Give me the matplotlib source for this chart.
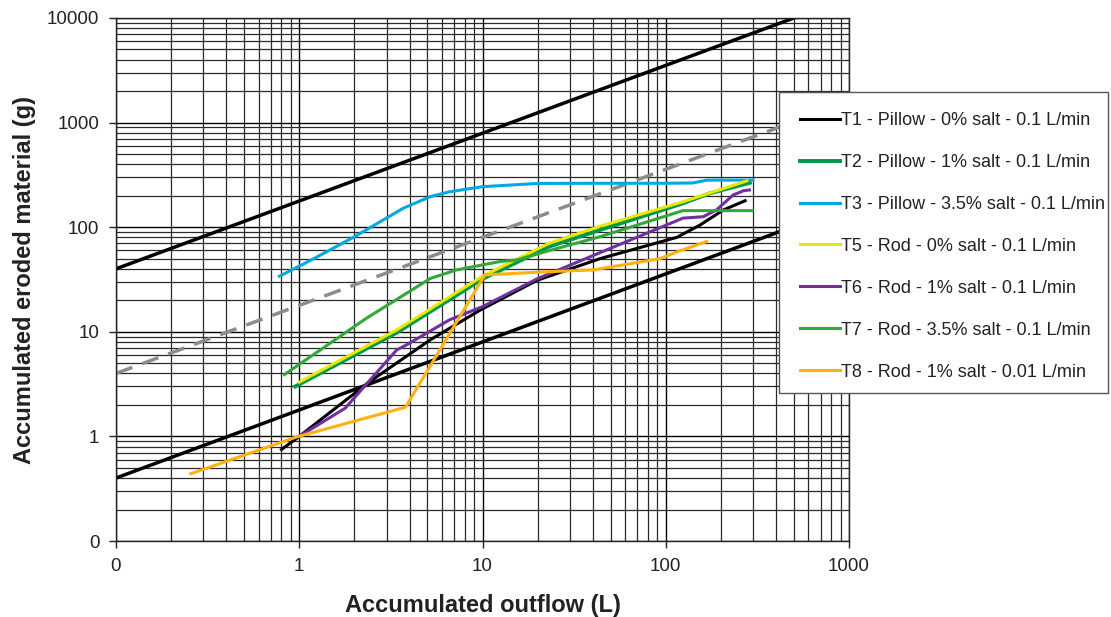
import matplotlib
matplotlib.use("Agg")
import matplotlib.pyplot as plt
from matplotlib.patches import Rectangle
from matplotlib.ticker import FixedLocator, FixedFormatter, LogLocator

plt.rcParams["font.family"] = ["Liberation Sans", "DejaVu Sans"]

# reference power-law lines (y ~ x^0.65)
upper_x = [0.1, 500]
upper_y = [40, 10000]
dashed_x = [0.1, 1000]
dashed_y = [4, 1600]
lower_x = [0.1, 1000]
lower_y = [0.4, 160]

# test series
t1_x = [0.80, 0.97, 2.4, 5.2, 9.7, 19.8, 43.7, 115, 154, 206, 271]
t1_y = [0.75, 0.96, 3.3, 8.4, 16.1, 31, 50, 80, 105, 146, 179]

t2_x = [0.95, 3.4, 10, 23, 43.7, 124, 174, 288]
t2_y = [3.0, 9.8, 32, 65, 94, 169, 211, 266]

t3_x = [0.78, 1.2, 2.0, 3.7, 5.2, 6.6, 10, 20, 50, 100, 141, 168, 299]
t3_y = [34, 50, 81, 152, 196, 218, 244, 262, 263, 263, 265, 282, 282]

t5_x = [1.0, 3.4, 10, 23, 43.7, 124, 277]
t5_y = [3.3, 10.4, 34, 70, 102, 175, 277]

t6_x = [1.0, 1.78, 3.4, 3.85, 6.6, 10, 19.8, 43.7, 124, 160, 189, 233, 265, 286]
t6_y = [1.0, 1.86, 6.7, 7.5, 13, 17.4, 32, 57, 122, 126, 146, 203, 223, 227]

t7_x = [0.83, 2.33, 5.2, 7.2, 12.5, 15.4, 23.3, 43.7, 124, 296]
t7_y = [3.9, 13.5, 32.4, 39, 47, 48.6, 60, 81, 144, 144]

t8_x = [0.256, 0.97, 3.8, 10.3, 23.3, 40, 93, 115, 167]
t8_y = [0.44, 0.99, 1.9, 35, 37.6, 39, 50, 58, 73]

labels = [
    "T1 - Pillow - 0% salt - 0.1 L/min",
    "T2 - Pillow - 1% salt - 0.1 L/min",
    "T3 - Pillow - 3.5% salt - 0.1 L/min",
    "T5 - Rod - 0% salt - 0.1 L/min",
    "T6 - Rod - 1% salt - 0.1 L/min",
    "T7 - Rod - 3.5% salt - 0.1 L/min",
    "T8 - Rod - 1% salt - 0.01 L/min",
]
colors = ["#000000", "#00994c", "#00a9e0", "#e8e800", "#7030a0", "#33a83a", "#ffb20f"]
x_ticks = [0.1, 1, 10, 100, 1000]
x_tick_labels = ["0", "1", "10", "100", "1000"]
y_ticks = [0.1, 1, 10, 100, 1000, 10000]
y_tick_labels = ["0", "1", "10", "100", "1000", "10000"]

W, H = 1111, 617
fig = plt.figure(figsize=(W / 100, H / 100), dpi=100)
ax = fig.add_axes([116 / W, 1 - 541 / H, (849 - 116) / W, (541 - 18) / H])
ax.set_xscale("log")
ax.set_yscale("log")
ax.set_xlim(0.1, 1000)
ax.set_ylim(0.1, 10000)

# grid, major and minor
ax.xaxis.set_minor_locator(LogLocator(base=10, subs=range(2, 10)))
ax.yaxis.set_minor_locator(LogLocator(base=10, subs=range(2, 10)))
ax.grid(True, which="major", color="#000000", linewidth=1.0)
ax.grid(True, which="minor", color="#2a2a2a", linewidth=0.9)
ax.set_axisbelow(True)

# reference lines
ax.plot(upper_x, upper_y, color="black", lw=2.5)
ax.plot(lower_x, lower_y, color="black", lw=2.5)
ax.plot(dashed_x, dashed_y, color="#8c8c8c", lw=2.5, dashes=(5, 3))

series = [(t1_x, t1_y), (t2_x, t2_y), (t3_x, t3_y), (t5_x, t5_y),
          (t6_x, t6_y), (t7_x, t7_y), (t8_x, t8_y)]
handles = []
for (xs, ys), lab, col in zip(series, labels, colors):
    lw = 2.8 if lab.startswith("T2") else 2.2
    h, = ax.plot(xs, ys, color=col, lw=lw, label=lab)
    handles.append(h)

ax.xaxis.set_major_locator(FixedLocator(x_ticks))
ax.xaxis.set_major_formatter(FixedFormatter(x_tick_labels))
ax.yaxis.set_major_locator(FixedLocator(y_ticks))
ax.yaxis.set_major_formatter(FixedFormatter(y_tick_labels))
ax.tick_params(which="major", direction="out", length=5, width=1, labelsize=13.5,
               colors="#222222", pad=7)
ax.tick_params(which="minor", length=0)
for sp in ax.spines.values():
    sp.set_color("#222222")
    sp.set_linewidth(1)

ax.set_xlabel("Accumulated outflow (L)", fontsize=17, fontweight="bold",
              color="#222222", labelpad=14)
ax.set_ylabel("Accumulated eroded material (g)", fontsize=17, fontweight="bold",
              color="#222222", labelpad=8)

# legend box drawn by hand so the padding can be uneven like the original
box = Rectangle((779 / W, 1 - 393 / H), (1108 - 779) / W, (393 - 92) / H,
                transform=fig.transFigure, facecolor="white",
                edgecolor="#555555", linewidth=1, zorder=2)
fig.patches.append(box)

leg = fig.legend(handles=handles, labels=labels, loc="upper left",
                 bbox_to_anchor=(800 / W, 1 - 112 / H),
                 fontsize=13, frameon=False,
                 handlelength=2.2, handletextpad=0.05, labelspacing=1.38,
                 borderpad=0, borderaxespad=0)
leg.set_zorder(5)
for t in leg.get_texts():
    t.set_color("#222222")

fig.savefig("out.png", dpi=100)
